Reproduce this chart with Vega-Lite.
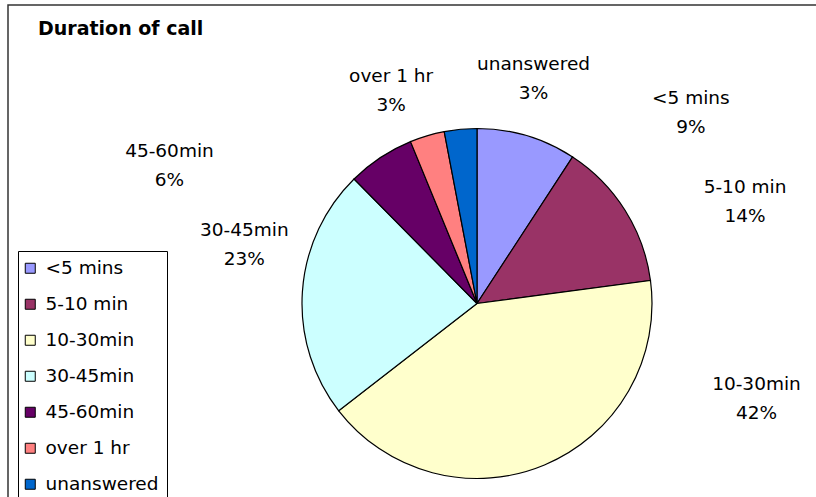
{
  "$schema": "https://vega.github.io/schema/vega-lite/v6.json",
  "autosize": {"type": "none"},
  "padding": {"left": 8, "top": 5, "right": -130, "bottom": -105},
  "width": 938,
  "height": 597,
  "background": "white",
  "view": {"stroke": "#333333", "strokeWidth": 1.5, "fill": "white"},
  "title": {
    "text": "Duration of call",
    "anchor": "start",
    "frame": "group",
    "orient": "top",
    "offset": -19,
    "dx": 30,
    "dy": 30,
    "baseline": "alphabetic",
    "font": "DejaVu Sans",
    "fontSize": 19,
    "fontWeight": "bold",
    "color": "black"
  },
  "data": {
    "values": [
      {"category": "<5 mins", "value": 9.2, "order": 1, "lines": ["<5 mins", "9%"]},
      {"category": "5-10 min", "value": 13.7, "order": 2, "lines": ["5-10 min", "14%"]},
      {"category": "10-30min", "value": 41.6, "order": 3, "lines": ["10-30min", "42%"]},
      {"category": "30-45min", "value": 23.1, "order": 4, "lines": ["30-45min", "23%"]},
      {"category": "45-60min", "value": 6.2, "order": 5, "lines": ["45-60min", "6%"]},
      {"category": "over 1 hr", "value": 3.2, "order": 6, "lines": ["over 1 hr", "3%"]},
      {"category": "unanswered", "value": 3.0, "order": 7, "lines": ["unanswered", "3%"]}
    ]
  },
  "encoding": {
    "theta": {"field": "value", "type": "quantitative", "stack": true},
    "order": {"field": "order", "type": "quantitative"}
  },
  "layer": [
    {
      "mark": {"type": "arc", "radius": 175, "stroke": "black", "strokeWidth": 1.2},
      "encoding": {
        "color": {
          "field": "category",
          "type": "nominal",
          "scale": {
            "domain": ["<5 mins", "5-10 min", "10-30min", "30-45min", "45-60min", "over 1 hr", "unanswered"],
            "range": ["#9999FF", "#993366", "#FFFFCC", "#CCFFFF", "#660066", "#FF8080", "#0066CC"]
          },
          "legend": {
            "orient": "none",
            "legendX": 10,
            "legendY": 246,
            "title": null,
            "strokeColor": "black",
            "fillColor": "white",
            "padding": 8,
            "symbolType": "square",
            "symbolSize": 100,
            "symbolOffset": -5,
            "symbolStrokeColor": "black",
            "symbolStrokeWidth": 1,
            "labelFont": "DejaVu Sans",
            "labelFontSize": 18.5,
            "labelColor": "black",
            "labelOffset": 6,
            "labelLimit": 300,
            "rowPadding": 17,
            "labelExpr": "(datum.label == '5-10 min' || datum.label == '10-30min') ? '\\u00a0' + datum.label : datum.label"
          }
        }
      }
    },
    {
      "mark": {"type": "text", "radius": 175, "dx": 164, "dy": -38, "font": "DejaVu Sans", "fontSize": 18.5, "lineHeight": 29, "align": "center", "baseline": "middle", "color": "black"},
      "encoding": {
        "detail": {"field": "category", "type": "nominal"},
        "text": {"condition": {"test": "datum.category === '<5 mins'", "field": "lines", "type": "nominal"}, "value": ""}
      }
    },
    {
      "mark": {"type": "text", "radius": 175, "dx": 120, "dy": -23, "font": "DejaVu Sans", "fontSize": 18.5, "lineHeight": 29, "align": "center", "baseline": "middle", "color": "black"},
      "encoding": {
        "detail": {"field": "category", "type": "nominal"},
        "text": {"condition": {"test": "datum.category === '5-10 min'", "field": "lines", "type": "nominal"}, "value": ""}
      }
    },
    {
      "mark": {"type": "text", "radius": 175, "dx": 212, "dy": -81, "font": "DejaVu Sans", "fontSize": 18.5, "lineHeight": 29, "align": "center", "baseline": "middle", "color": "black"},
      "encoding": {
        "detail": {"field": "category", "type": "nominal"},
        "text": {"condition": {"test": "datum.category === '10-30min'", "field": "lines", "type": "nominal"}, "value": ""}
      }
    },
    {
      "mark": {"type": "text", "radius": 175, "dx": -58, "dy": -62, "font": "DejaVu Sans", "fontSize": 18.5, "lineHeight": 29, "align": "center", "baseline": "middle", "color": "black"},
      "encoding": {
        "detail": {"field": "category", "type": "nominal"},
        "text": {"condition": {"test": "datum.category === '30-45min'", "field": "lines", "type": "nominal"}, "value": ""}
      }
    },
    {
      "mark": {"type": "text", "radius": 175, "dx": -211, "dy": -7, "font": "DejaVu Sans", "fontSize": 18.5, "lineHeight": 29, "align": "center", "baseline": "middle", "color": "black"},
      "encoding": {
        "detail": {"field": "category", "type": "nominal"},
        "text": {"condition": {"test": "datum.category === '45-60min'", "field": "lines", "type": "nominal"}, "value": ""}
      }
    },
    {
      "mark": {"type": "text", "radius": 175, "dx": -36, "dy": -60, "font": "DejaVu Sans", "fontSize": 18.5, "lineHeight": 29, "align": "center", "baseline": "middle", "color": "black"},
      "encoding": {
        "detail": {"field": "category", "type": "nominal"},
        "text": {"condition": {"test": "datum.category === 'over 1 hr'", "field": "lines", "type": "nominal"}, "value": ""}
      }
    },
    {
      "mark": {"type": "text", "radius": 175, "dx": 73, "dy": -65, "font": "DejaVu Sans", "fontSize": 18.5, "lineHeight": 29, "align": "center", "baseline": "middle", "color": "black"},
      "encoding": {
        "detail": {"field": "category", "type": "nominal"},
        "text": {"condition": {"test": "datum.category === 'unanswered'", "field": "lines", "type": "nominal"}, "value": ""}
      }
    }
  ],
  "config": {
    "view": {"stroke": "#333333", "strokeWidth": 1.5, "fill": "white"}
  }
}
